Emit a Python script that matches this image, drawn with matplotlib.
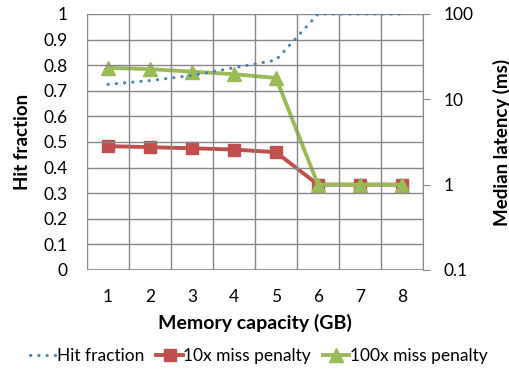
import matplotlib
matplotlib.use("Agg")
import matplotlib.pyplot as plt
from matplotlib.lines import Line2D
from matplotlib.ticker import FixedLocator, NullFormatter

plt.rcParams['font.family'] = ['Lato', 'DejaVu Sans']

capacity = [1, 2, 3, 4, 5, 6, 7, 8]
hit_fraction = [0.725, 0.74, 0.76, 0.79, 0.82, 1.0, 1.0, 1.0]
lat_10x = [2.83, 2.75, 2.67, 2.58, 2.40, 1.0, 1.0, 1.0]
lat_100x = [23.4, 22.6, 21.1, 19.7, 17.8, 1.0, 1.0, 1.0]
left_ticks = [0, 0.1, 0.2, 0.3, 0.4, 0.5, 0.6, 0.7, 0.8, 0.9, 1]
left_labels = ['0', '0.1', '0.2', '0.3', '0.4', '0.5', '0.6', '0.7', '0.8', '0.9', '1']
right_ticks = [0.1, 1, 10, 100]
right_labels = ['0.1', '1', '10', '100']

BLUE = '#4F81BD'
RED = '#C0504D'
GREEN = '#9BBB59'
GRID = '#878787'
TICK_FS = 12.5

fig = plt.figure(figsize=(5.1, 3.69), dpi=100)
ax = fig.add_axes([87/510, 1-270/369, (423-87)/510, (270-14)/369])
ax2 = ax.twinx()

ax.set_xlim(0.5, 8.5)
ax.set_ylim(0, 1)
ax2.set_ylim(0.1, 100)
ax2.set_yscale('log')

# grid
ax.xaxis.set_minor_locator(FixedLocator([x + 0.5 for x in [0] + capacity]))
ax.set_xticks(capacity)
ax.set_yticks(left_ticks)
ax.set_yticklabels(left_labels)
ax.grid(True, which='minor', axis='x', color=GRID, linewidth=1)
ax.grid(True, which='major', axis='y', color=GRID, linewidth=1)
ax.set_axisbelow(True)
for s in ['top', 'right', 'left', 'bottom']:
    ax.spines[s].set_visible(False)
    ax2.spines[s].set_visible(False)
ax.axhline(0, color=GRID, linewidth=1.2, zorder=1)
ax2.spines['right'].set_visible(True)
ax2.spines['right'].set_color(GRID)

ax.tick_params(axis='x', which='both', length=0, pad=14, labelsize=TICK_FS)
ax.tick_params(axis='y', length=0, pad=14, labelsize=TICK_FS)
ax2.yaxis.set_major_locator(FixedLocator(right_ticks))
ax2.set_yticklabels(right_labels)
ax2.yaxis.set_minor_formatter(NullFormatter())
ax2.tick_params(axis='y', which='minor', length=0)
ax2.tick_params(axis='y', which='major', length=5, color=GRID, pad=10, labelsize=TICK_FS)

ax.set_zorder(ax2.get_zorder() + 1)
ax.patch.set_visible(False)

ax.plot(capacity, hit_fraction, color=BLUE, linewidth=2.2,
        linestyle=(0, (0.1, 2.6)), dash_capstyle='round', zorder=3)
ax2.plot(capacity, lat_10x, color=RED, linewidth=2.8, marker='s',
         markersize=9, zorder=3)
ax2.plot(capacity, lat_100x, color=GREEN, linewidth=2.8, marker='^',
         markersize=10, zorder=4)

ax.set_xlabel('Memory capacity (GB)', fontsize=14, fontweight='bold', labelpad=6)
ax.set_ylabel('Hit fraction', fontsize=13.5, fontweight='bold', labelpad=9)
ax2.set_ylabel('Median latency (ms)', fontsize=13.5, fontweight='bold', labelpad=14)

handles = [
    Line2D([], [], color=BLUE, linewidth=2.2, linestyle=(0, (0.1, 2.6)), dash_capstyle='round'),
    Line2D([], [], color=RED, linewidth=2.8, marker='s', markersize=9),
    Line2D([], [], color=GREEN, linewidth=2.8, marker='^', markersize=10),
]
fig.legend(handles, ['Hit fraction', '10x miss penalty', '100x miss penalty'],
           loc='center', bbox_to_anchor=(259/510, 1-356/369), ncol=3, frameon=False,
           fontsize=12.5, handlelength=1.5, handletextpad=0.05, columnspacing=0.7)

fig.savefig('out.png', dpi=100)
